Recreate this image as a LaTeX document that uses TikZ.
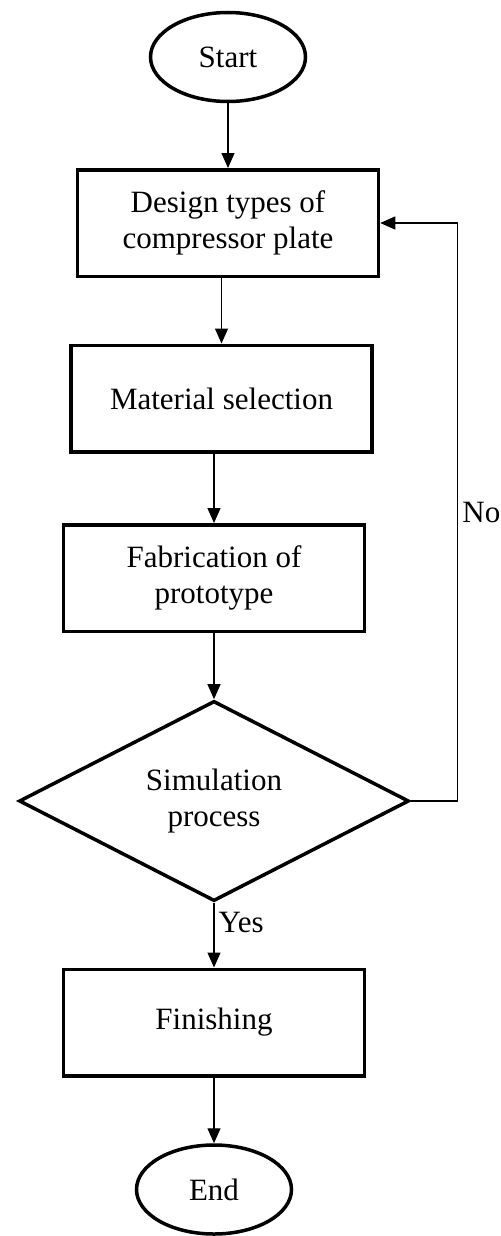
\documentclass[tikz,border=0pt]{standalone}
\usepackage{fontspec}
\setmainfont{Liberation Serif}
\usetikzlibrary{shapes.geometric,arrows.meta}

\tikzset{
    term/.style={draw, ellipse, line width=1.75pt, minimum width=77.5pt, minimum height=44.5pt, inner sep=0pt},
    proc/.style={draw, rectangle, line width=1.75pt, minimum width=150.5pt, minimum height=53.25pt, align=center},
    decide/.style={draw, diamond, line width=1.75pt, minimum width=195pt, minimum height=93.5pt, inner sep=0pt, align=center},
    arr/.style={line width=0.65pt, -{Triangle[width=6.5pt,length=7.5pt]}},
    lbl/.style={inner sep=2pt}
}

\begin{document}
\begin{tikzpicture}[x=0.5pt, y=-0.5pt, font=\fontsize{15.5}{18}\selectfont]
    \useasboundingbox (0,0) rectangle (501,1236);
    % terminals
    \node[term] (start) at (228,57){Start};
    \node[term] (end) at (214,1189.5){End};
    % process boxes
    \node[proc] (design) at (228,223){Design types of\\compressor plate};
    \node[proc] (material) at (221.5,398.5){Material selection};
    \node[proc] (fab) at (214,578){Fabrication of\\prototype};
    \node[proc] (finish) at (214,1022.5){Finishing};
    % decision
    \node[decide] (sim) at (214,801){Simulation\\process};

    % arrows
    \draw[arr] (start) -- (design);
    \draw[arr] (design.south -| material.north) -- (material.north);
    \draw[arr] (material.south -| fab.north) -- (fab.north);
    \draw[arr] (fab) -- (sim);
    \draw[arr] (sim) -- (finish) node[lbl, pos=0.3, right]{Yes};
    \draw[arr] (finish) -- (end);
    \draw[arr] (sim.east) -- ++(23.5pt,0) |- (design.east) node[lbl, pos=0.25, right]{No};
\end{tikzpicture}
\end{document}
